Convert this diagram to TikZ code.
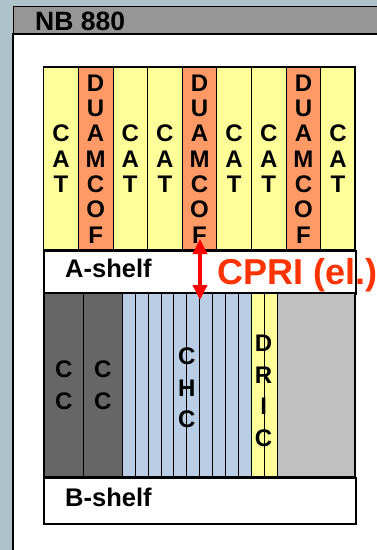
\documentclass[tikz,border=0pt]{standalone}
\usepackage{fontspec}
\setmainfont{Liberation Sans}
\usetikzlibrary{arrows.meta}
\definecolor{bgblue}{HTML}{AEC3C9}
\definecolor{barGray}{HTML}{969696}
\definecolor{catYellow}{HTML}{FFFF99}
\definecolor{duamOrange}{HTML}{FF9966}
\definecolor{ccGray}{HTML}{666666}
\definecolor{chcBlue}{HTML}{B9CDE5}
\definecolor{emptyGray}{HTML}{C0C0C0}
\definecolor{cpriRed}{HTML}{FF3300}
\newcommand{\slotfont}{\bfseries\fontsize{24}{25.3}\selectfont}
\newcommand{\bslotfont}{\bfseries\fontsize{24}{31.5}\selectfont}

\begin{document}
\begin{tikzpicture}[x=1pt,y=-1pt,>={Triangle[length=15pt,width=14pt]},
  slot/.style={draw,line width=0.8pt,anchor=north west,inner sep=0pt,
    align=center,font=\slotfont,minimum height=183pt},
  bslot/.style={slot,font=\bslotfont,minimum height=184pt},
  shelfbox/.style={draw,line width=1.5pt,fill=white,anchor=north west,
    minimum width=311.7pt,inner sep=0pt},
  shelflabel/.style={anchor=west,font=\bfseries\fontsize{25.5}{27}\selectfont,inner sep=0pt}]
\useasboundingbox (0,0) rectangle (377,550);
\fill[bgblue] (0,0) rectangle (377,550);
% cabinet frame with title bar
\filldraw[fill=white,line width=2pt] (13,34) rectangle (395,560);
\filldraw[fill=barGray,line width=1pt] (13,6) rectangle (395,34);
\draw[line width=2pt] (13,34) -- (395,34);
\node[anchor=west,inner sep=0pt,font=\bfseries\fontsize{26.5}{28}\selectfont] (title) at (35,21) {NB 880};

% A-shelf: nine boards
\foreach \txt/\clr [count=\i from 0] in {{C\\A\\T}/catYellow,{D\\U\\A\\M\\C\\O\\F}/duamOrange,
    {C\\A\\T}/catYellow,{C\\A\\T}/catYellow,{D\\U\\A\\M\\C\\O\\F}/duamOrange,
    {C\\A\\T}/catYellow,{C\\A\\T}/catYellow,{D\\U\\A\\M\\C\\O\\F}/duamOrange,{C\\A\\T}/catYellow}
  \node[slot,fill=\clr,minimum width=34.63pt] (a\i) at ({43.3+\i*34.63},67) {\txt};
\draw[line width=1.5pt] (43.3,67) rectangle (355,250);
\node[shelfbox,minimum height=43pt] (ashelf) at (43.3,250) {};
\node[shelflabel] (alabel) at (65,268) {A-shelf};

% B-shelf: CC, CHC, DRIC and free space
\node[bslot,fill=ccGray,minimum width=39pt] (cc1) at (44,293) {C\\C};
\node[bslot,fill=ccGray,minimum width=39pt] (cc2) at (83,293) {C\\C};
\foreach \i in {0,...,9}
  \node[bslot,fill=chcBlue,minimum width=12.87pt] (chc\i) at ({122+\i*12.87},293) {};
\foreach \i in {0,1}
  \node[bslot,fill=catYellow,minimum width=12.9pt] (dric\i) at ({250.7+\i*12.9},293) {};
\node[bslot,fill=emptyGray,minimum width=78.5pt] (free) at (276.5,293) {};
\node[font=\bslotfont,align=center,inner sep=0pt] (chc) at (186.7,388) {C\\H\\C};
\node[font=\bslotfont,align=center,inner sep=0pt] (dric) at (263.6,391) {D\\R\\I\\C};
\draw[line width=1.5pt] (43.3,293) rectangle (355,477);
\node[shelfbox,minimum height=46pt] (bshelf) at (43.3,477) {};
\node[shelflabel] (blabel) at (65,497) {B-shelf};

% electrical CPRI link between the shelves
\coordinate (cpriA) at (200,239);
\coordinate (cpriB) at (200,300);
\draw[<->,red,line width=3.5pt] (cpriA) -- (cpriB);
\node[anchor=west,inner sep=0pt,text=cpriRed,font=\bfseries\fontsize{36}{38}\selectfont] (cpri) at (217,275) {CPRI (el.)};
\end{tikzpicture}
\end{document}
